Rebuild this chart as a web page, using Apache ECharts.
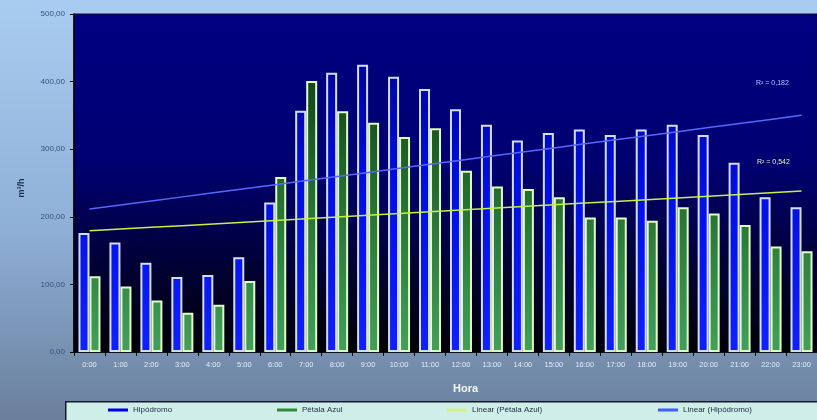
<!DOCTYPE html>
<html>
<head>
<meta charset="utf-8">
<script src="https://cdn.jsdelivr.net/npm/echarts@6/dist/echarts.min.js"></script>
<style>
  html, body { margin: 0; padding: 0; }
  #chart { width: 817px; height: 420px; }
</style>
</head>
<body>
<div id="chart"></div>
<script>
// Hourly flow (m³/h) at the two monitoring points
const hours = ['0:00','1:00','2:00','3:00','4:00','5:00','6:00','7:00','8:00','9:00','10:00','11:00',
               '12:00','13:00','14:00','15:00','16:00','17:00','18:00','19:00','20:00','21:00','22:00','23:00'];
const hipodromo = [176, 162, 132, 111, 114, 140, 221, 357, 413, 425, 407, 389,
                   359, 336, 313, 324, 329, 321, 329, 336, 321, 280, 229, 214];
const petalaAzul = [112, 97, 76, 58, 70, 105, 259, 401, 356, 339, 318, 331,
                    268, 245, 241, 229, 199, 199, 194, 214, 205, 188, 156, 149];
const yTicks = [0, 100, 200, 300, 400, 500];
const r2Labels = ['R² = 0,182', 'R² = 0,542'];

// Least-squares straight line through a series (the "Linear" trend)
function linearTrend(values) {
  const n = values.length;
  let sx = 0, sy = 0, sxx = 0, sxy = 0;
  values.forEach((v, i) => { sx += i; sy += v; sxx += i * i; sxy += i * v; });
  const slope = (n * sxy - sx * sy) / (n * sxx - sx * sx);
  const icpt = (sy - slope * sx) / n;
  return values.map((_, i) => +(icpt + slope * i).toFixed(2));
}
const trendHip = linearTrend(hipodromo);
const trendPet = linearTrend(petalaAzul);

const font = 'Liberation Sans, Arial, sans-serif';
const fmt = v => v.toFixed(2).replace('.', ',');
const G = echarts.graphic.LinearGradient;

const chart = echarts.init(document.getElementById('chart'));
chart.setOption({
  animation: false,
  backgroundColor: new G(0, 0, 0, 1, [
    { offset: 0, color: '#a9cdf0' },
    { offset: 0.55, color: '#8eafd6' },
    { offset: 1, color: '#6a7f9c' }
  ]),
  textStyle: { fontFamily: font },
  grid: {
    left: 74, top: 14, right: -8, bottom: 68,
    show: true,
    borderColor: '#0a0a30',
    borderWidth: 1,
    backgroundColor: new G(0, 0, 0, 1, [
      { offset: 0, color: '#000082' },
      { offset: 0.45, color: '#000070' },
      { offset: 0.8, color: '#00002a' },
      { offset: 1, color: '#000008' }
    ])
  },
  xAxis: {
    type: 'category',
    data: hours,
    axisLine: { lineStyle: { color: '#000', width: 1.5 } },
    axisTick: { show: true, length: 4, lineStyle: { color: '#000' } },
    axisLabel: { color: '#e4ecf6', fontSize: 7.5, margin: 9, interval: 0, fontFamily: font }
  },
  yAxis: {
    type: 'value',
    min: yTicks[0], max: yTicks[yTicks.length - 1], interval: 100,
    splitLine: { show: false },
    axisLine: { show: true, lineStyle: { color: '#000', width: 1.5 } },
    axisTick: { show: true, length: 4, lineStyle: { color: '#000' } },
    axisLabel: { color: '#34507e', fontSize: 8, margin: 9, formatter: fmt, fontFamily: font }
  },
  legend: [
    { data: [{ name: 'Hipódromo', itemStyle: { color: '#0000e6', borderWidth: 0 } }], left: 108 },
    { data: [{ name: 'Pétala Azul', itemStyle: { color: '#2e8a3c', borderWidth: 0 } }], left: 277 },
    { data: [{ name: 'Linear (Pétala Azul)', itemStyle: { color: '#d4f08a', borderWidth: 0 } }], left: 447 },
    { data: [{ name: 'Linear (Hipódromo)', itemStyle: { color: '#3f5cff', borderWidth: 0 } }], left: 658 }
  ].map(l => Object.assign({
    top: 406, icon: 'rect', itemWidth: 20, itemHeight: 3, itemGap: 0,
    textStyle: { color: '#1c2a40', fontSize: 8, fontFamily: font }, padding: 0
  }, l)),
  graphic: [
    { type: 'rect', left: 65, top: 401, z: -1,
      shape: { width: 800, height: 30 },
      style: { fill: '#cfeee8', stroke: '#151b2a', lineWidth: 1.5 } },
    { type: 'text', left: 453, top: 383,
      style: { text: 'Hora', fill: '#f2f6fb', font: 'bold 11px ' + font } },
    { type: 'text', x: 22, y: 188, rotation: Math.PI / 2, originX: 0, originY: 0,
      style: { text: 'm³/h', fill: '#1e3050', font: 'bold 9px ' + font, align: 'center', verticalAlign: 'middle' } },
    { type: 'text', left: 756, top: 80,
      style: { text: r2Labels[0], fill: '#b8c4ff', font: '7px ' + font } },
    { type: 'text', left: 757, top: 159,
      style: { text: r2Labels[1], fill: '#e8f4b8', font: '7px ' + font } }
  ],
  series: [
    {
      name: 'Hipódromo', type: 'bar', data: hipodromo,
      barWidth: 11, barGap: '0%', barCategoryGap: '30%',
      itemStyle: {
        color: new G(0, 14, 0, 352, [
          { offset: 0, color: '#000078' },
          { offset: 0.5, color: '#000ee0' },
          { offset: 1, color: '#1020ff' }
        ], true),
        borderColor: '#d4dcff', borderWidth: 2
      }
    },
    {
      name: 'Pétala Azul', type: 'bar', data: petalaAzul,
      barWidth: 11,
      itemStyle: {
        color: new G(0, 14, 0, 352, [
          { offset: 0, color: '#0a2e12' },
          { offset: 0.5, color: '#236a2e' },
          { offset: 1, color: '#42a05c' }
        ], true),
        borderColor: '#e2fcc4', borderWidth: 2
      }
    },
    {
      name: 'Linear (Pétala Azul)', type: 'line', data: trendPet,
      showSymbol: false, z: 5,
      lineStyle: { color: '#c4f048', width: 1.5 }
    },
    {
      name: 'Linear (Hipódromo)', type: 'line', data: trendHip,
      showSymbol: false, z: 5,
      lineStyle: { color: '#5468ff', width: 1.5 }
    }
  ]
});
</script>
</body>
</html>
